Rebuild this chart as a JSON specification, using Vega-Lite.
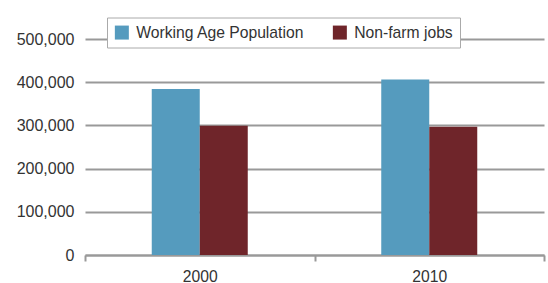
{
  "$schema": "https://vega.github.io/schema/vega-lite/v6.json",
  "width": 459,
  "height": 216,
  "autosize": {"type": "none"},
  "padding": {"left": 85, "top": 39, "right": 4, "bottom": 28},
  "background": "white",
  "data": {"values": [
    {"year": "2000", "series": "Working Age Population", "value": 384000},
    {"year": "2000", "series": "Non-farm jobs", "value": 299000},
    {"year": "2010", "series": "Working Age Population", "value": 406000},
    {"year": "2010", "series": "Non-farm jobs", "value": 297000}
  ]},
  "mark": {"type": "bar"},
  "encoding": {
    "x": {
      "field": "year", "type": "nominal",
      "scale": {"paddingInner": 0, "paddingOuter": 0},
      "axis": {"title": null, "labelAngle": 0, "tickBand": "extent", "domainColor": "#999", "domainWidth": 2, "tickColor": "#999", "tickWidth": 2, "tickSize": 6, "labelPadding": 8, "labelFontSize": 15.7, "labelColor": "#333", "grid": false}
    },
    "xOffset": {
      "field": "series", "type": "nominal",
      "sort": ["Working Age Population", "Non-farm jobs"],
      "scale": {"domain": ["Working Age Population", "Non-farm jobs"], "range": [66.75, 162.75], "paddingInner": 0, "paddingOuter": 0}
    },
    "y": {
      "field": "value", "type": "quantitative",
      "scale": {"domain": [0, 500000], "nice": false},
      "axis": {"title": null, "values": [0, 100000, 200000, 300000, 400000, 500000], "format": ",d", "domain": false, "ticks": false, "labelPadding": 11, "gridColor": "#999", "gridWidth": 2, "labelFontSize": 16, "labelColor": "#333"}
    },
    "color": {
      "field": "series", "type": "nominal",
      "sort": ["Working Age Population", "Non-farm jobs"],
      "scale": {"domain": ["Working Age Population", "Non-farm jobs"], "range": ["#559bbe", "#6f252a"]},
      "legend": {"title": null, "orient": "none", "legendX": 22, "legendY": -21.5, "direction": "horizontal", "fillColor": "white", "strokeColor": "#aaa", "padding": 7, "symbolType": "square", "symbolSize": 196, "symbolStrokeWidth": 0, "symbolOpacity": 1, "labelFontSize": 15.7, "labelOffset": 6.5, "columnPadding": 27, "labelColor": "#333", "labelLimit": 300}
    }
  },
  "config": {"font": "Liberation Sans", "view": {"stroke": null}}
}
